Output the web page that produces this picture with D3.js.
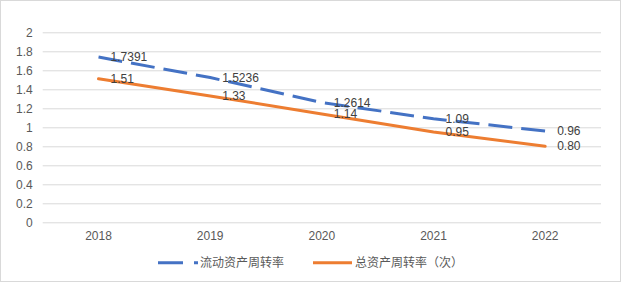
<!DOCTYPE html>
<html>
<head>
<meta charset="utf-8">
<script src="https://cdn.jsdelivr.net/npm/d3@7"></script>
<style>
	body { margin: 0; background: #fff; }
	text { font-family: "Liberation Sans", "Noto Sans CJK SC", sans-serif; }
</style>
</head>
<body>
<svg></svg>
<script>
const years = ['2018', '2019', '2020', '2021', '2022'];
const currentTurnover = [1.7391, 1.5236, 1.2614, 1.09, 0.96];
const currentLabels = ['1.7391', '1.5236', '1.2614', '1.09', '0.96'];
const totalTurnover = [1.51, 1.33, 1.14, 0.95, 0.80];
const totalLabels = ['1.51', '1.33', '1.14', '0.95', '0.80'];
const yTicks = [0, 0.2, 0.4, 0.6, 0.8, 1, 1.2, 1.4, 1.6, 1.8, 2];
const seriesNames = ['流动资产周转率', '总资产周转率（次）'];

const svg = d3.select('svg')
	.attr('width', 623)
	.attr('height', 283);

const width = +svg.attr('width'),
	height = +svg.attr('height');

svg.append('rect')
	.attr('x', 0.5).attr('y', 0.5)
	.attr('width', 620).attr('height', 281)
	.attr('fill', '#fff')
	.attr('stroke', '#d9d9d9');

const margin = { top: 32.3, left: 42.7 },
	innerWidth = 601 - margin.left,
	innerHeight = 222.3 - margin.top;

const xScale = d3.scaleBand()
	.domain(years)
	.range([0, innerWidth]);

const yScale = d3.scaleLinear()
	.domain([0, 2])
	.range([innerHeight, 0]);

const g = svg.append('g')
	.attr('transform', `translate(${margin.left}, ${margin.top})`);

// grid + y labels
const yAxis = d3.axisLeft(yScale)
	.tickValues(yTicks)
	.tickFormat(d3.format('~g'))
	.tickSize(-innerWidth)
	.tickPadding(10);

const yAxisG = g.append('g').call(yAxis);
yAxisG.select('.domain').remove();
yAxisG.selectAll('line').attr('stroke', '#d9d9d9');
yAxisG.selectAll('text')
	.attr('fill', '#595959')
	.style('font-size', '12px');

const xAxis = d3.axisBottom(xScale)
	.tickSize(0)
	.tickPadding(9);

const xAxisG = g.append('g').call(xAxis)
	.attr('transform', `translate(0, ${innerHeight})`);
xAxisG.select('.domain').remove();
xAxisG.selectAll('text')
	.attr('fill', '#595959')
	.style('font-size', '12px');

const xPos = (d, i) => xScale(years[i]) + xScale.bandwidth() / 2;

const lineGen = d3.line()
	.x(xPos)
	.y(d => yScale(d));

g.append('path')
	.attr('d', lineGen(totalTurnover))
	.attr('fill', 'none')
	.attr('stroke', '#ed7d31')
	.attr('stroke-width', 3)
	.attr('stroke-linecap', 'round');

g.append('path')
	.attr('d', lineGen(currentTurnover))
	.attr('fill', 'none')
	.attr('stroke', '#4472c4')
	.attr('stroke-width', 3)
	.attr('stroke-dasharray', '24,9');

// data labels
const addLabels = (values, labels) => {
	g.append('g').selectAll('text')
		.data(values)
		.join('text')
		.attr('x', (d, i) => xPos(d, i) + 12)
		.attr('y', d => yScale(d))
		.attr('dy', '0.35em')
		.attr('fill', '#404040')
		.style('font-size', '12px')
		.text((d, i) => labels[i]);
};
addLabels(currentTurnover, currentLabels);
addLabels(totalTurnover, totalLabels);

// legend
const legendY = 262.7;
const legend = svg.append('g');

legend.append('line')
	.attr('x1', 158).attr('x2', 198)
	.attr('y1', legendY).attr('y2', legendY)
	.attr('stroke', '#4472c4')
	.attr('stroke-width', 3)
	.attr('stroke-dasharray', '25,11');
legend.append('text')
	.attr('x', 200).attr('y', legendY)
	.attr('dy', '0.35em')
	.attr('fill', '#595959')
	.style('font-size', '12px')
	.text(seriesNames[0]);

legend.append('line')
	.attr('x1', 313).attr('x2', 352)
	.attr('y1', legendY).attr('y2', legendY)
	.attr('stroke', '#ed7d31')
	.attr('stroke-width', 3);
legend.append('text')
	.attr('x', 355).attr('y', legendY)
	.attr('dy', '0.35em')
	.attr('fill', '#595959')
	.style('font-size', '12px')
	.text(seriesNames[1]);
</script>
</body>
</html>
